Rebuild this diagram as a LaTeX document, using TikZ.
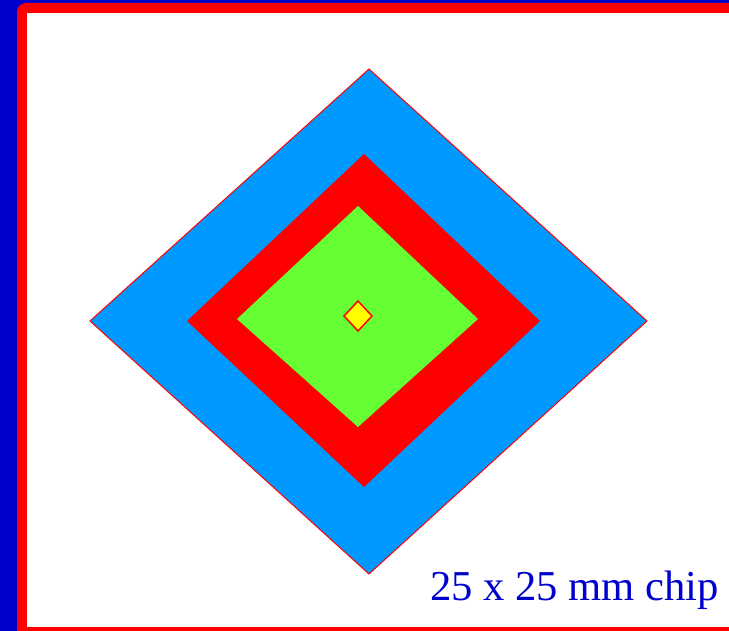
\documentclass[tikz,border=0pt]{standalone}
\usepackage{fontspec}
\setmainfont{Liberation Serif}
\definecolor{frameblue}{RGB}{0,0,204}
\definecolor{chipblue}{RGB}{0,153,255}
\definecolor{chipred}{RGB}{255,0,0}
\definecolor{chipgreen}{RGB}{102,255,51}
\definecolor{chipyellow}{RGB}{255,255,0}
\tikzset{
  layer/.style={draw=chipred, line width=1pt, line join=miter},
}
\begin{document}
\begin{tikzpicture}[x=1pt,y=-1pt]
\useasboundingbox (0,0) rectangle (729,631);
% background and frame
\fill[frameblue] (0,0) rectangle (729,631);
\fill[chipred, rounded corners=9pt] (17,3) rectangle (760,660);
\fill[white] (27,13) rectangle (729,627);
% diamonds
\coordinate (bt) at (369,69);  \coordinate (bl) at (90,321);
\coordinate (br) at (647,321); \coordinate (bb) at (369,574);
\filldraw[layer, fill=chipblue] (bt) -- (br) -- (bb) -- (bl) -- cycle;
\coordinate (rt) at (364,154); \coordinate (rl) at (187,321);
\coordinate (rr) at (540,321); \coordinate (rb) at (364,487);
\fill[chipred] (rt) -- (rr) -- (rb) -- (rl) -- cycle;
\coordinate (gt) at (358,206); \coordinate (gl) at (237,319);
\coordinate (gr) at (478,319); \coordinate (gb) at (358,427);
\fill[chipgreen] (gt) -- (gr) -- (gb) -- (gl) -- cycle;
\coordinate (yt) at (358,301); \coordinate (yl) at (344,316);
\coordinate (yr) at (372,316); \coordinate (yb) at (358,331);
\filldraw[layer, line width=1.5pt, fill=chipyellow] (yt) -- (yr) -- (yb) -- (yl) -- cycle;
% label
\node[anchor=base west, inner sep=0pt, text=frameblue, font=\fontsize{42.6}{50}\selectfont] (label) at (430,600) {25 x 25 mm chip};
\end{tikzpicture}
\end{document}
